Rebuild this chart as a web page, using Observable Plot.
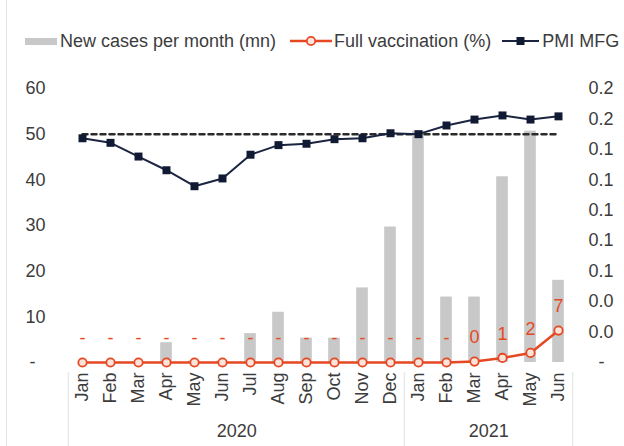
<!DOCTYPE html>
<html>
<head>
<meta charset="utf-8">
<script src="https://cdn.jsdelivr.net/npm/d3@7"></script>
<script src="https://cdn.jsdelivr.net/npm/@observablehq/plot@0.6"></script>
<style>
  html, body { margin: 0; padding: 0; background: #fff; }
  #chart { position: relative; width: 624px; height: 446px; overflow: hidden; background: #fff;
           font-family: "Liberation Sans", Arial, sans-serif; }
  #frame { position: absolute; left: 6px; top: 0; width: 1px; height: 446px; background: #e4e4e4; }
  .legend { position: absolute; top: 30px; left: 0; height: 22px; display: flex; align-items: center;
            font-size: 18px; color: #3c3c3c; white-space: nowrap; }
  .legend span.txt { line-height: 22px; }
  #plot { position: absolute; top: 60px; left: 0; }
</style>
</head>
<body>
<div id="chart">
  <div id="frame"></div>
  <div class="legend">
    <span style="display:inline-block;margin-left:25px;width:32px;height:7px;background:#c8c8c8"></span>
    <span class="txt" style="margin-left:3px">New cases per month (mn)</span>
    <svg width="42" height="14" style="margin-left:14px">
      <line x1="0" x2="42" y1="7" y2="7" stroke="#e64823" stroke-width="2.5"/>
      <circle cx="21" cy="7" r="4.2" fill="#fde3da" stroke="#e64823" stroke-width="1.8"/>
    </svg>
    <span class="txt" style="margin-left:2px">Full vaccination (%)</span>
    <svg width="37" height="14" style="margin-left:11px">
      <line x1="0" x2="37" y1="7" y2="7" stroke="#1b2440" stroke-width="2"/>
      <rect x="14.5" y="3" width="8" height="8" fill="#111a33"/>
    </svg>
    <span class="txt" style="margin-left:3px">PMI MFG</span>
  </div>
  <div id="plot"></div>
</div>
<script>
// ---- data ----
const months = ["Jan","Feb","Mar","Apr","May","Jun","Jul","Aug","Sep","Oct","Nov","Dec",
                "Jan","Feb","Mar","Apr","May","Jun"];
const years  = [2020,2020,2020,2020,2020,2020,2020,2020,2020,2020,2020,2020,
                2021,2021,2021,2021,2021,2021];
// New cases per month (mn) – right axis
const newCases = [0, 0, 0, 0.013, 0.001, 0.001, 0.019, 0.033, 0.016, 0.016, 0.049, 0.089,
                  0.152, 0.043, 0.043, 0.122, 0.152, 0.054];
// Full vaccination (%) – left axis
const vaccination = [0,0,0,0,0,0,0,0,0,0,0,0, 0,0, 0.2, 1.0, 2.1, 7.0];
// PMI manufacturing – left axis
const pmi = [49.1, 48.1, 45.1, 42.1, 38.6, 40.3, 45.5, 47.6, 47.9, 48.9, 49.1, 50.2,
             50.0, 51.9, 53.2, 54.1, 53.2, 53.9];
const pmiThreshold = 50;
const leftTicks  = [0, 10, 20, 30, 40, 50, 60];
const rightTicks = [0, 0.02, 0.04, 0.06, 0.08, 0.10, 0.12, 0.14, 0.16, 0.18];
const yearLabels = ["2020", "2021"];

// ---- build table ----
const keys = months.map((m, i) => years[i] + "-" + m);
const data = keys.map((k, i) => ({key: k, month: months[i], year: years[i],
  cases: newCases[i], vacc: vaccination[i], pmi: pmi[i]}));
const leftMax = leftTicks[leftTicks.length - 1];
const rightMax = rightTicks[rightTicks.length - 1];
const k = leftMax / rightMax; // right-axis values into left-axis units

// year label anchors: middle of each year's months
const yearGroups = yearLabels.map(y => keys.filter((kk, i) => String(years[i]) === y));
const step = 512 / keys.length;
const red = "#e64823", navy = "#1b2440", grayText = "#3c3c3c";

const chart = Plot.plot({
  width: 624,
  height: 386,
  marginLeft: 64,
  marginRight: 48,
  marginTop: 28,
  marginBottom: 84,
  style: {fontSize: "18px", fontFamily: "'Liberation Sans', Arial, sans-serif", color: grayText, background: "transparent"},
  x: {domain: keys, type: "band", padding: 0},
  y: {domain: [0, leftMax]},
  marks: [
    Plot.barY(data, {x: "key", y: d => d.cases * k, fill: "#c8c8c8", insetLeft: 8.2, insetRight: 8.2}),
    Plot.axisY({ticks: leftTicks, tickSize: 0, tickPadding: 19, anchor: "left", label: null,
      tickFormat: d => d === 0 ? "-\u2007" : String(d), fontSize: 18}),
    Plot.axisY({ticks: rightTicks.map(v => v * k), tickSize: 0, tickPadding: 12, anchor: "right", label: null,
      tickFormat: d => { const v = d / k; return Math.abs(v) < 1e-9 ? "\u2007-" : v.toFixed(1); }, fontSize: 18}),
    Plot.axisX({tickRotate: -90, tickSize: 0, tickPadding: 10, label: null,
      tickFormat: d => d.split("-")[1], fontSize: 18}),
    // category separators below the axis
    Plot.ruleX([keys[0], keys[12]], {x: d => d, dx: -step / 2, y1: -2.2, y2: -19, stroke: "#e2e2e2", strokeWidth: 1}),
    Plot.ruleX([keys[keys.length - 1]], {x: d => d, dx: step / 2, y1: -2.2, y2: -19, stroke: "#e2e2e2", strokeWidth: 1}),
    Plot.text(yearLabels, {x: (d, i) => yearGroups[i][Math.floor((yearGroups[i].length - 1) / 2)],
      dx: step / 2, frameAnchor: "bottom", dy: 74, text: d => d, fontSize: 18, fill: grayText}),
    // 50 threshold dashed line
    Plot.lineY(data, {x: "key", y: () => pmiThreshold, stroke: "#2b2b2b", strokeWidth: 2.5, strokeDasharray: "5,4"}),
    // vaccination
    Plot.lineY(data, {x: "key", y: "vacc", stroke: red, strokeWidth: 2.5}),
    Plot.dot(data, {x: "key", y: "vacc", r: 4.2, fill: "#fde3da", stroke: red, strokeWidth: 1.8}),
    Plot.text(data, {x: "key", y: "vacc", dy: -24, fill: red, fontSize: 18,
      text: d => d.vacc === 0 ? "-" : String(Math.round(d.vacc))}),
    // PMI
    Plot.lineY(data, {x: "key", y: "pmi", stroke: navy, strokeWidth: 2}),
    Plot.dot(data, {x: "key", y: "pmi", symbol: "square", r: 4.5, fill: "#111a33", stroke: "none"})
  ]
});
document.getElementById("plot").appendChild(chart);
</script>
</body>
</html>
